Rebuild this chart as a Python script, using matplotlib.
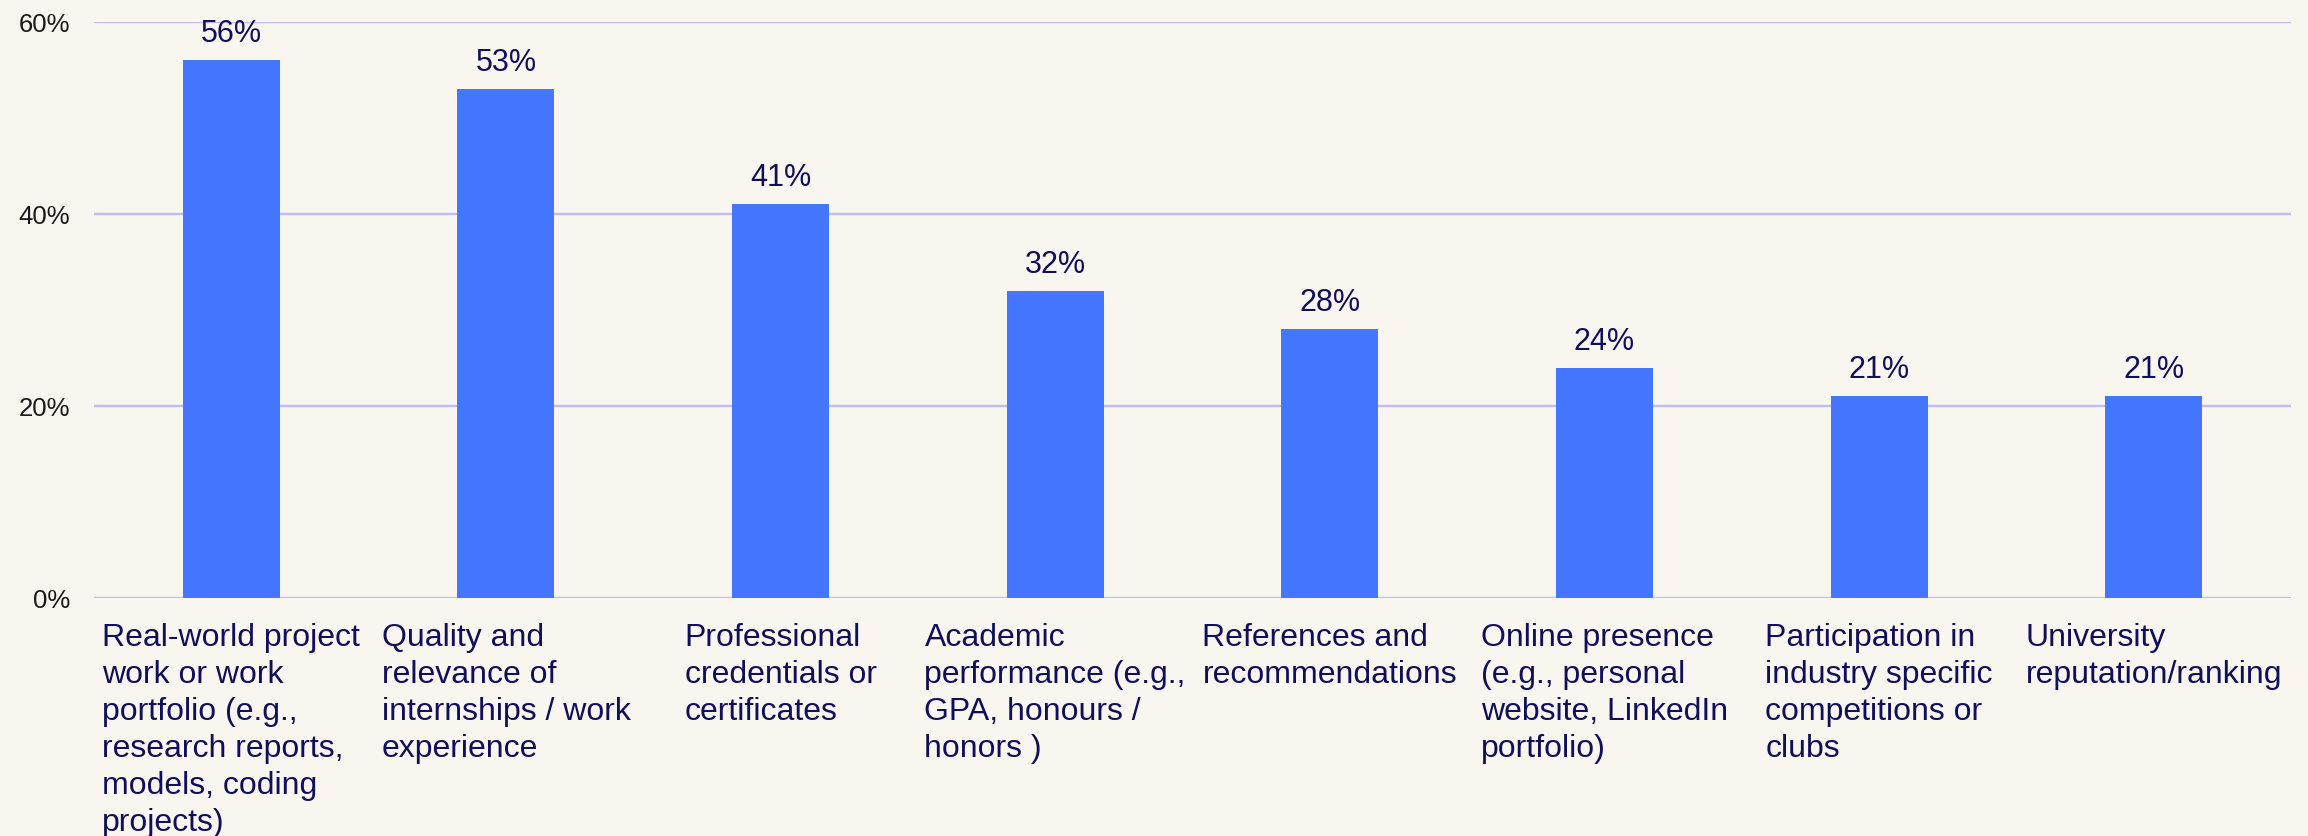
import matplotlib
matplotlib.use("Agg")
import matplotlib.pyplot as plt
from matplotlib.ticker import FuncFormatter

categories = [
    "Real-world project\nwork or work\nportfolio (e.g.,\nresearch reports,\nmodels, coding\nprojects)",
    "Quality and\nrelevance of\ninternships / work\nexperience",
    "Professional\ncredentials or\ncertificates",
    "Academic\nperformance (e.g.,\nGPA, honours /\nhonors )",
    "References and\nrecommendations",
    "Online presence\n(e.g., personal\nwebsite, LinkedIn\nportfolio)",
    "Participation in\nindustry specific\ncompetitions or\nclubs",
    "University\nreputation/ranking",
]
values = [56, 53, 41, 32, 28, 24, 21, 21]
yticks = [0, 20, 40, 60]

BG = "#f9f5ef"
BAR = "#4476ff"
GRID = "#bcbcf6"
NAVY = "#10105a"

plt.rcParams["font.family"] = ["Liberation Sans", "DejaVu Sans"]

fig = plt.figure(figsize=(23.08, 8.36), dpi=100, facecolor=BG)
ax = fig.add_axes([94 / 2308, 1 - 598 / 836, (2291 - 94) / 2308, (598 - 22) / 836])
ax.set_facecolor(BG)

x = list(range(len(values)))
bars = ax.bar(x, values, width=0.353, color=BAR, zorder=3)

for xi, v in zip(x, values):
    ax.annotate(f"{v}%", (xi, v), xytext=(0, 13), textcoords="offset points",
                ha="center", va="baseline", fontsize=22, color=NAVY)

ax.set_xlim(-0.5, len(values) - 0.5)
ax.set_ylim(0, 60)
ax.set_yticks(yticks)
ax.yaxis.set_major_formatter(FuncFormatter(lambda v, p: f"{int(v)}%"))
ax.grid(axis="y", color=GRID, linewidth=1.7, zorder=0)
ax.set_axisbelow(True)
for s in ax.spines.values():
    s.set_visible(False)

ax.set_xticks(x)
ax.set_xticklabels(categories, fontsize=23, color=NAVY, ha="center",
                   multialignment="left", linespacing=1.3)
ax.tick_params(axis="x", length=0, pad=18)
ax.tick_params(axis="y", length=0, pad=17, labelsize=18.5, labelcolor="#1a1a1a")

fig.savefig("out.png", dpi=100, facecolor=BG)
